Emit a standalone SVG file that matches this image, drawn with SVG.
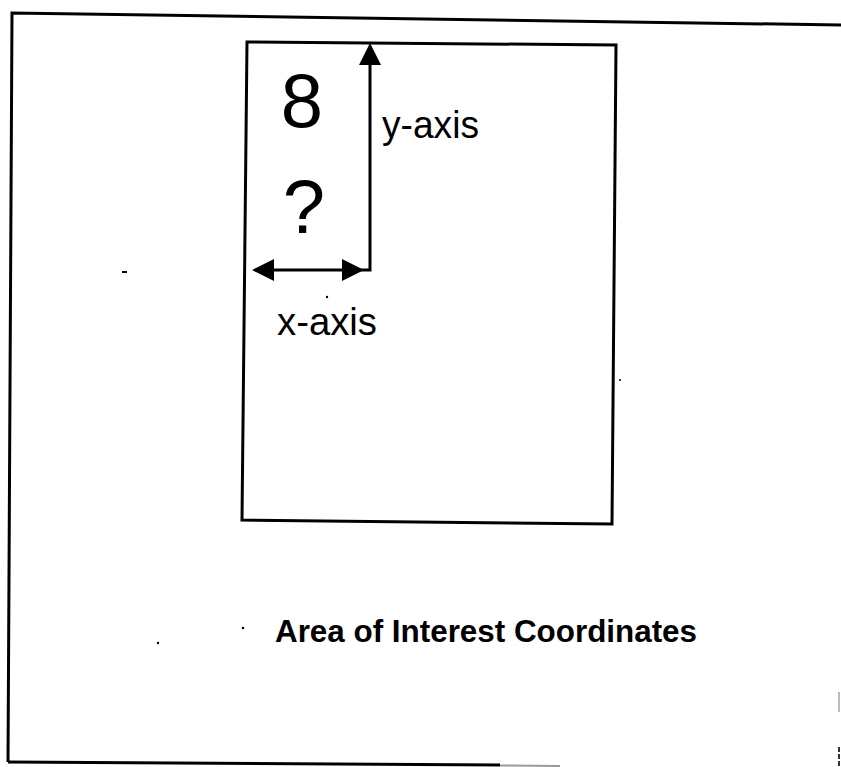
<svg xmlns="http://www.w3.org/2000/svg" width="841" height="767" viewBox="0 0 841 767">
  <style>
    .frame { fill: none; stroke: #000; stroke-width: 3; stroke-linejoin: miter; }
    .axis { fill: none; stroke: #000; stroke-width: 3; }
    .big { font-family: "Liberation Sans", Arial, sans-serif; font-size: 76px; fill: #000; text-anchor: middle; }
    .lbl { font-family: "Liberation Sans", Arial, sans-serif; font-size: 38px; fill: #000; }
    .title { font-family: "Liberation Sans", Arial, sans-serif; font-size: 31px; font-weight: bold; fill: #000; }
    .dot { fill: #000; }
  </style>
  <defs>
    <marker id="head" markerUnits="userSpaceOnUse" markerWidth="22" markerHeight="22" refX="19" refY="11" orient="auto-start-reverse">
      <path d="M0,0 L22,11 L0,22 Z" fill="#000"/>
    </marker>
  </defs>
  <rect width="841" height="767" fill="#fff"/>

  <g id="outer-frame">
    <path class="frame" d="M8,762 L12,13 L841,25"/>
    <path class="frame" d="M8,762 L500,765"/>
    <path d="M500,765.5 L560,766" fill="none" stroke="#999" stroke-width="2"/>
    <path d="M839,692 L839,712" fill="none" stroke="#bbb" stroke-width="2"/>
    <path d="M839,747 L839,766" fill="none" stroke="#333" stroke-width="2" stroke-dasharray="5 2"/>
  </g>

  <g id="area-of-interest">
    <path class="frame" d="M247,42 L616,45 L612,524 L242,520 Z"/>
  </g>

  <g id="connectors">
    <path class="axis" d="M361,270 L255,270" marker-start="url(#head)" marker-end="url(#head)"/>
    <path class="axis" d="M361,270 L370,270 L370,46" marker-end="url(#head)"/>
  </g>

  <g id="label-8"><text class="big" x="302" y="127">8</text></g>
  <g id="label-q"><text class="big" x="304" y="233">?</text></g>
  <g id="label-y"><text class="lbl" x="382" y="138" textLength="97" lengthAdjust="spacingAndGlyphs">y-axis</text></g>
  <g id="label-x"><text class="lbl" x="277" y="335" textLength="100" lengthAdjust="spacingAndGlyphs">x-axis</text></g>
  <g id="title"><text class="title" x="275" y="642" textLength="422" lengthAdjust="spacingAndGlyphs">Area of Interest Coordinates</text></g>

  <g id="specks">
    <circle class="dot" cx="327" cy="297" r="1.2"/>
    <rect class="dot" x="122" y="271" width="5" height="2"/>
    <circle class="dot" cx="158" cy="643" r="1.2"/>
    <circle class="dot" cx="243" cy="628" r="1.3"/>
    <circle class="dot" cx="620" cy="380" r="1"/>
  </g>
</svg>
